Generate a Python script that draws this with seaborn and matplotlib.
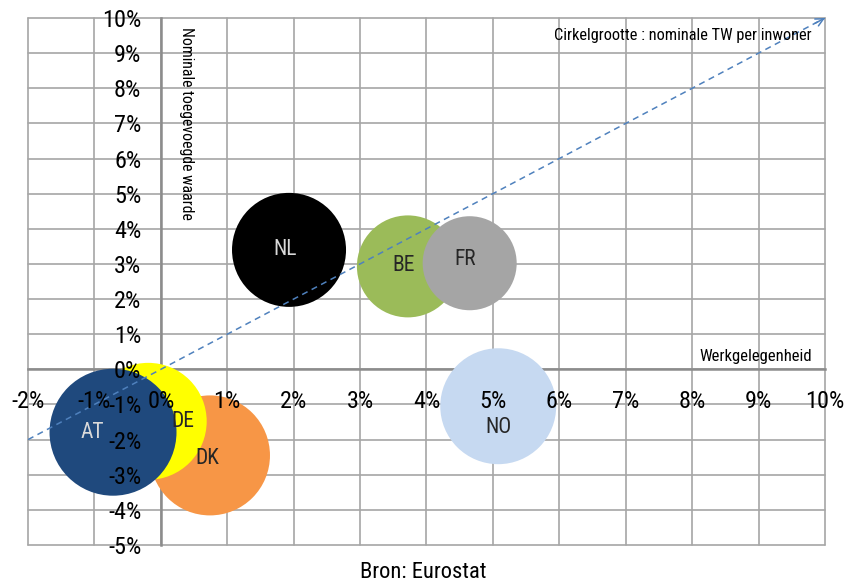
import matplotlib
matplotlib.use("Agg")
import matplotlib.pyplot as plt
import seaborn as sns
import pandas as pd

# Landen, groei werkgelegenheid (x), groei nominale TW (y) en cirkelgrootte
landen = ["NL", "BE", "FR", "NO", "DK", "DE", "AT"]
werkgelegenheid = [1.93, 3.72, 4.65, 5.08, 0.74, -0.19, -0.72]
toegevoegde_waarde = [3.40, 2.93, 3.02, -1.05, -2.45, -1.48, -1.79]
cirkelgrootte = [32.5, 26.0, 22.1, 33.6, 36.0, 34.2, 40.3]
kleuren = ["#000000", "#9BBB59", "#A5A5A5", "#C6D9F1", "#F79646", "#FFFF00", "#1F497D"]
labelkleuren = ["#D9D9D9", "#262626", "#262626", "#262626", "#262626", "#262626", "#D9D9D9"]
label_offset = [(-3, 0), (-3, 1), (-3, 3), (0, -15), (-2, -2), (25, 0), (-15, 0)]

x_ticks = list(range(-2, 11))
y_ticks = list(range(-5, 11))
diagonaal = [-2, 10]

df = pd.DataFrame({
    "land": landen,
    "werk": werkgelegenheid,
    "tw": toegevoegde_waarde,
    "grootte": cirkelgrootte,
})

sns.set_style("white")
plt.rcParams["font.family"] = ["Roboto Condensed", "DejaVu Sans"]

fig = plt.figure(figsize=(8.45, 5.86), dpi=100)
rect = [28 / 845, 41 / 586, 797 / 845, 527 / 586]
ax = fig.add_axes(rect)

sns.scatterplot(
    data=df, x="werk", y="tw", hue="land",
    palette=dict(zip(landen, kleuren)),
    size="grootte",
    sizes={g: g * 207.36 for g in cirkelgrootte},
    legend=False, edgecolor="none", linewidth=0, alpha=1,
    ax=ax, zorder=3,
)

for land, x, y, kl, off in zip(landen, werkgelegenheid, toegevoegde_waarde,
                               labelkleuren, label_offset):
    ax.annotate(land, (x, y), xytext=off, textcoords="offset points",
                ha="center", va="center", fontsize=15.5, color=kl, zorder=5)

# diagonale referentielijn met pijlpunt
ax.plot(diagonaal, diagonaal, linestyle=(0, (4, 3)), color="#4F81BD",
        linewidth=1.1, zorder=4)
ax.annotate("", xy=(diagonaal[1], diagonaal[1]),
            xytext=(diagonaal[1] - 0.15, diagonaal[1] - 0.15),
            arrowprops=dict(arrowstyle="->", color="#4F81BD", lw=1.1,
                            mutation_scale=14, shrinkA=0, shrinkB=0),
            zorder=4, annotation_clip=False)

# rasterlijnen onder de cirkels
for t in x_ticks:
    ax.axvline(t, color="#A6A6A6", linewidth=1.2, zorder=0, clip_on=False)
for t in y_ticks:
    ax.axhline(t, color="#A6A6A6", linewidth=1.2, zorder=0, clip_on=False)

ax.set_xlim(-2, 10)
ax.set_ylim(-5, 10)
ax.set_xticks(x_ticks)
ax.set_yticks(y_ticks)
ax.set_xlabel("")
ax.set_ylabel("")
ax.grid(False)

for side in ["top", "right"]:
    ax.spines[side].set_visible(False)
for side in ["left", "bottom"]:
    ax.spines[side].set_position(("data", 0))
    ax.spines[side].set_color("#8C8C8C")
    ax.spines[side].set_linewidth(1.8)

ax.tick_params(axis="both", which="major", direction="out", length=5,
               width=1.5, color="#8C8C8C", labelbottom=False, labelleft=False)

# aslabels in een transparante laag boven de cirkels
lab = fig.add_axes(rect, sharex=ax, sharey=ax, frameon=False)
lab.patch.set_visible(False)
for side in ["left", "bottom"]:
    lab.spines[side].set_position(("data", 0))
lab.set_xticks(x_ticks)
lab.set_yticks(y_ticks)
lab.set_xticklabels([f"{t}%" for t in x_ticks])
lab.set_yticklabels([f"{t}%" for t in y_ticks])
lab.tick_params(axis="both", length=0, labelsize=17.5, labelcolor="#000000")
lab.tick_params(axis="x", pad=15)
lab.tick_params(axis="y", pad=14)
lab.set_xlim(-2, 10)
lab.set_ylim(-5, 10)

ax.text(9.8, 0.37, "Werkgelegenheid", ha="right", va="center",
        fontsize=12, color="#000000", zorder=6)
ax.text(9.8, 9.51, "Cirkelgrootte : nominale TW per inwoner", ha="right",
        va="center", fontsize=11.8, color="#000000", zorder=6)
ax.text(0.39, 9.75, "Nominale toegevoegde waarde", ha="center", va="top",
        rotation=270, fontsize=11.4, color="#000000", zorder=6)

fig.text(423 / 845, 1 - 573 / 586, "Bron: Eurostat", ha="center", va="center",
         fontsize=16.2, color="#000000")

fig.savefig("out.png", dpi=100)
